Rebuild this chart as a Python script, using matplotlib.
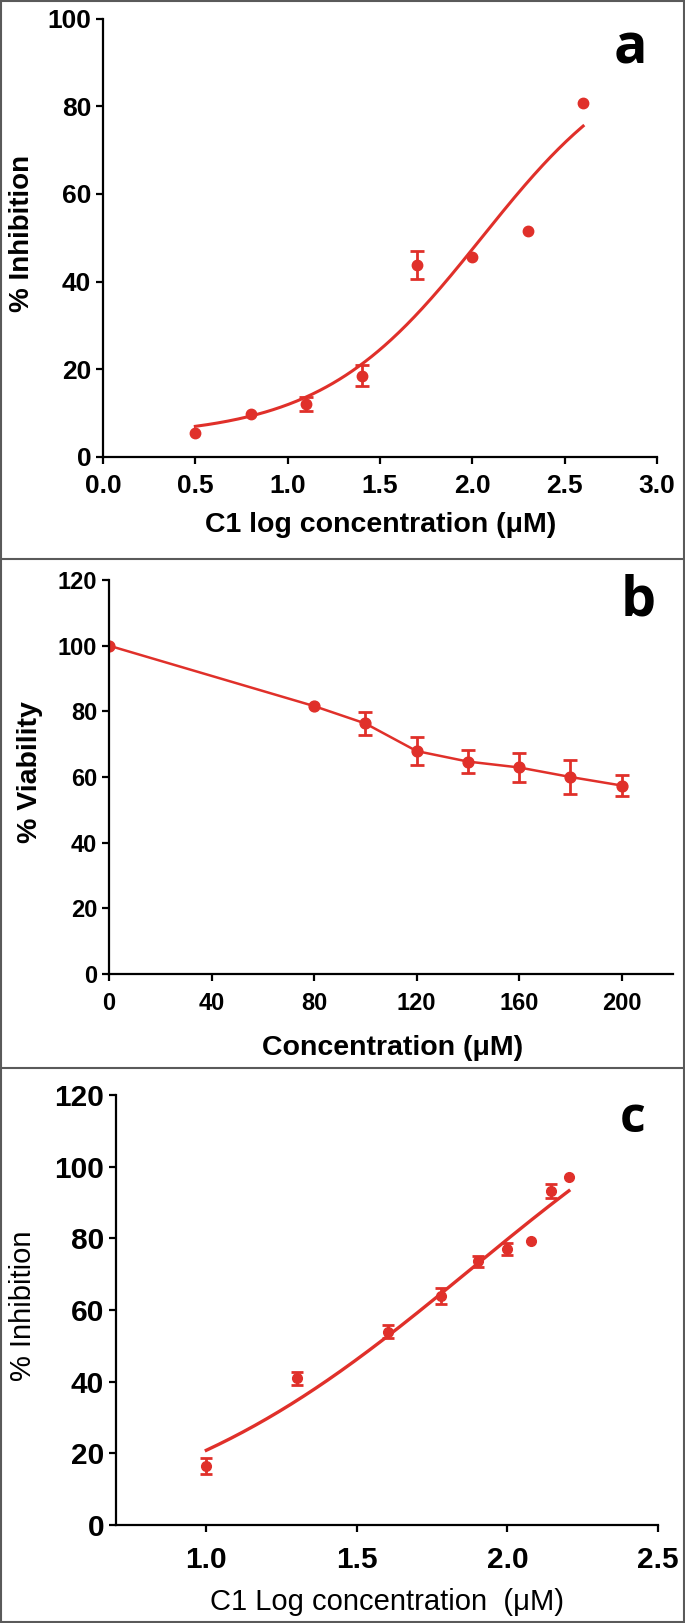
import numpy as np
import matplotlib
matplotlib.use('Agg')
import matplotlib.pyplot as plt
from matplotlib.lines import Line2D

# a) Hemmung gegen log Konzentration
xa = [0.5, 0.8, 1.1, 1.4, 1.7, 2.0, 2.3, 2.6]
ya = [5.5, 9.8, 12.2, 18.5, 43.8, 45.6, 51.5, 80.7]
ea = [0, 0, 1.6, 2.4, 3.3, 0, 0, 0]
fit_a = [4.5, 95.5, 2.05, 1.0]  # bottom, top, logEC50, hill

# b) Viabilitaet gegen Konzentration
xb = [0, 80, 100, 120, 140, 160, 180, 200]
yb = [100, 81.6, 76.3, 67.9, 64.7, 62.9, 60.0, 57.4]
eb = [0, 0, 3.4, 4.3, 3.4, 4.3, 5.3, 3.2]

# c) Hemmung gegen log Konzentration
xc = [1.0, 1.301, 1.602, 1.778, 1.903, 2.0, 2.079, 2.146, 2.204]
yc = [16.5, 40.9, 54.0, 64.0, 73.6, 77.1, 79.3, 93.2, 97.2]
ec = [2.3, 1.7, 1.8, 2.2, 1.6, 1.7, 0, 2.0, 0]
fit_c = [-5.4, 148.4, 1.88, 0.78]

red = '#e0302a'
W, H = 685, 1623


def logistic(x, bottom, top, logec50, hill):
	return bottom + (top - bottom) / (1 + 10**((logec50 - x) * hill))


def px(x, y):
	return x / W, 1 - y / H


def box(l, r, t, b):
	return [l / W, 1 - b / H, (r - l) / W, (b - t) / H]


def points(ax, x, y, e, ms, cap, fmt='o', lw=0):
	x, y, e = np.array(x), np.array(y), np.array(e)
	ax.plot(x, y, fmt, color=red, ms=ms, lw=lw)
	m = e > 0
	ax.errorbar(x[m], y[m], yerr=e[m], fmt='none', ecolor=red, elinewidth=2, capsize=cap, capthick=2)


def style(ax, size):
	for s in ['top', 'right']:
		ax.spines[s].set_visible(False)
	for s in ['left', 'bottom']:
		ax.spines[s].set_linewidth(1.6)
	ax.tick_params(direction='out', length=5, width=1.6, labelsize=size)
	for lab in ax.get_xticklabels() + ax.get_yticklabels():
		lab.set_fontweight('bold')


plt.rcParams['font.family'] = ['Liberation Sans', 'DejaVu Sans']
fig = plt.figure(figsize=(W / 100, H / 100), dpi=100)

# Rahmen
g = '#5a5a5a'
for yy in [1, 559, 1068, H - 1]:
	fig.add_artist(Line2D([0, 1], [1 - yy / H] * 2, color=g, lw=1.5, transform=fig.transFigure))
for xx in [1, W - 1]:
	fig.add_artist(Line2D([xx / W] * 2, [0, 1], color=g, lw=1.5, transform=fig.transFigure))

# a
ax = fig.add_axes(box(103, 657, 18.6, 457))
t = np.linspace(0.5, 2.6, 300)
ax.plot(t, logistic(t, *fit_a), '-', color=red, lw=2.2)
points(ax, xa, ya, ea, 7.5, 5)
ax.set_xlim(0, 3.0)
ax.set_ylim(0, 100)
ax.set_xticks(np.arange(0, 3.01, 0.5))
ax.set_xticklabels(['%.1f' % v for v in np.arange(0, 3.01, 0.5)])
ax.set_yticks(range(0, 101, 20))
ax.tick_params(axis='x', pad=7)
style(ax, 19)
fig.text(*px(381, 532), 'C1 log concentration (μM)', ha='center', va='baseline', fontsize=20.5, fontweight='bold')
fig.text(*px(22, 233), '% Inhibition', ha='center', va='center', rotation=90, fontsize=20, fontweight='bold')
fig.text(*px(630, 64), 'a', ha='center', va='baseline', fontsize=40, fontweight='bold', family='Open Sans')

# b
ax = fig.add_axes(box(109, 673, 580, 974))
points(ax, xb, yb, eb, 7.8, 5, fmt='o-', lw=1.8)
ax.set_xlim(0, 220)
ax.set_ylim(0, 120)
ax.set_xticks(range(0, 201, 40))
ax.set_yticks(range(0, 121, 20))
ax.tick_params(axis='x', pad=8)
style(ax, 17)
fig.text(*px(393, 1055), 'Concentration (μM)', ha='center', va='baseline', fontsize=20.5, fontweight='bold')
fig.text(*px(30, 772), '% Viability', ha='center', va='center', rotation=90, fontsize=20.5, fontweight='bold')
fig.text(*px(638, 615), 'b', ha='center', va='baseline', fontsize=40, fontweight='bold', family='Open Sans')

# c
ax = fig.add_axes(box(116, 658, 1095, 1525))
t = np.linspace(1.0, 2.204, 300)
ax.plot(t, logistic(t, *fit_c), '-', color=red, lw=2.4)
points(ax, xc, yc, ec, 7, 4.5)
ax.set_xlim(0.7, 2.5)
ax.set_ylim(0, 120)
ax.set_xticks([1.0, 1.5, 2.0, 2.5])
ax.set_xticklabels(['1.0', '1.5', '2.0', '2.5'])
ax.set_yticks(range(0, 121, 20))
ax.tick_params(axis='x', pad=10)
style(ax, 21.5)
fig.text(*px(387, 1610), 'C1 Log concentration  (μM)', ha='center', va='baseline', fontsize=21)
fig.text(*px(23, 1306), '% Inhibition', ha='center', va='center', rotation=90, fontsize=21)
fig.text(*px(633, 1132), 'c', ha='center', va='baseline', fontsize=36, fontweight='bold', family='Open Sans')

plt.savefig('out.png', dpi=100)
